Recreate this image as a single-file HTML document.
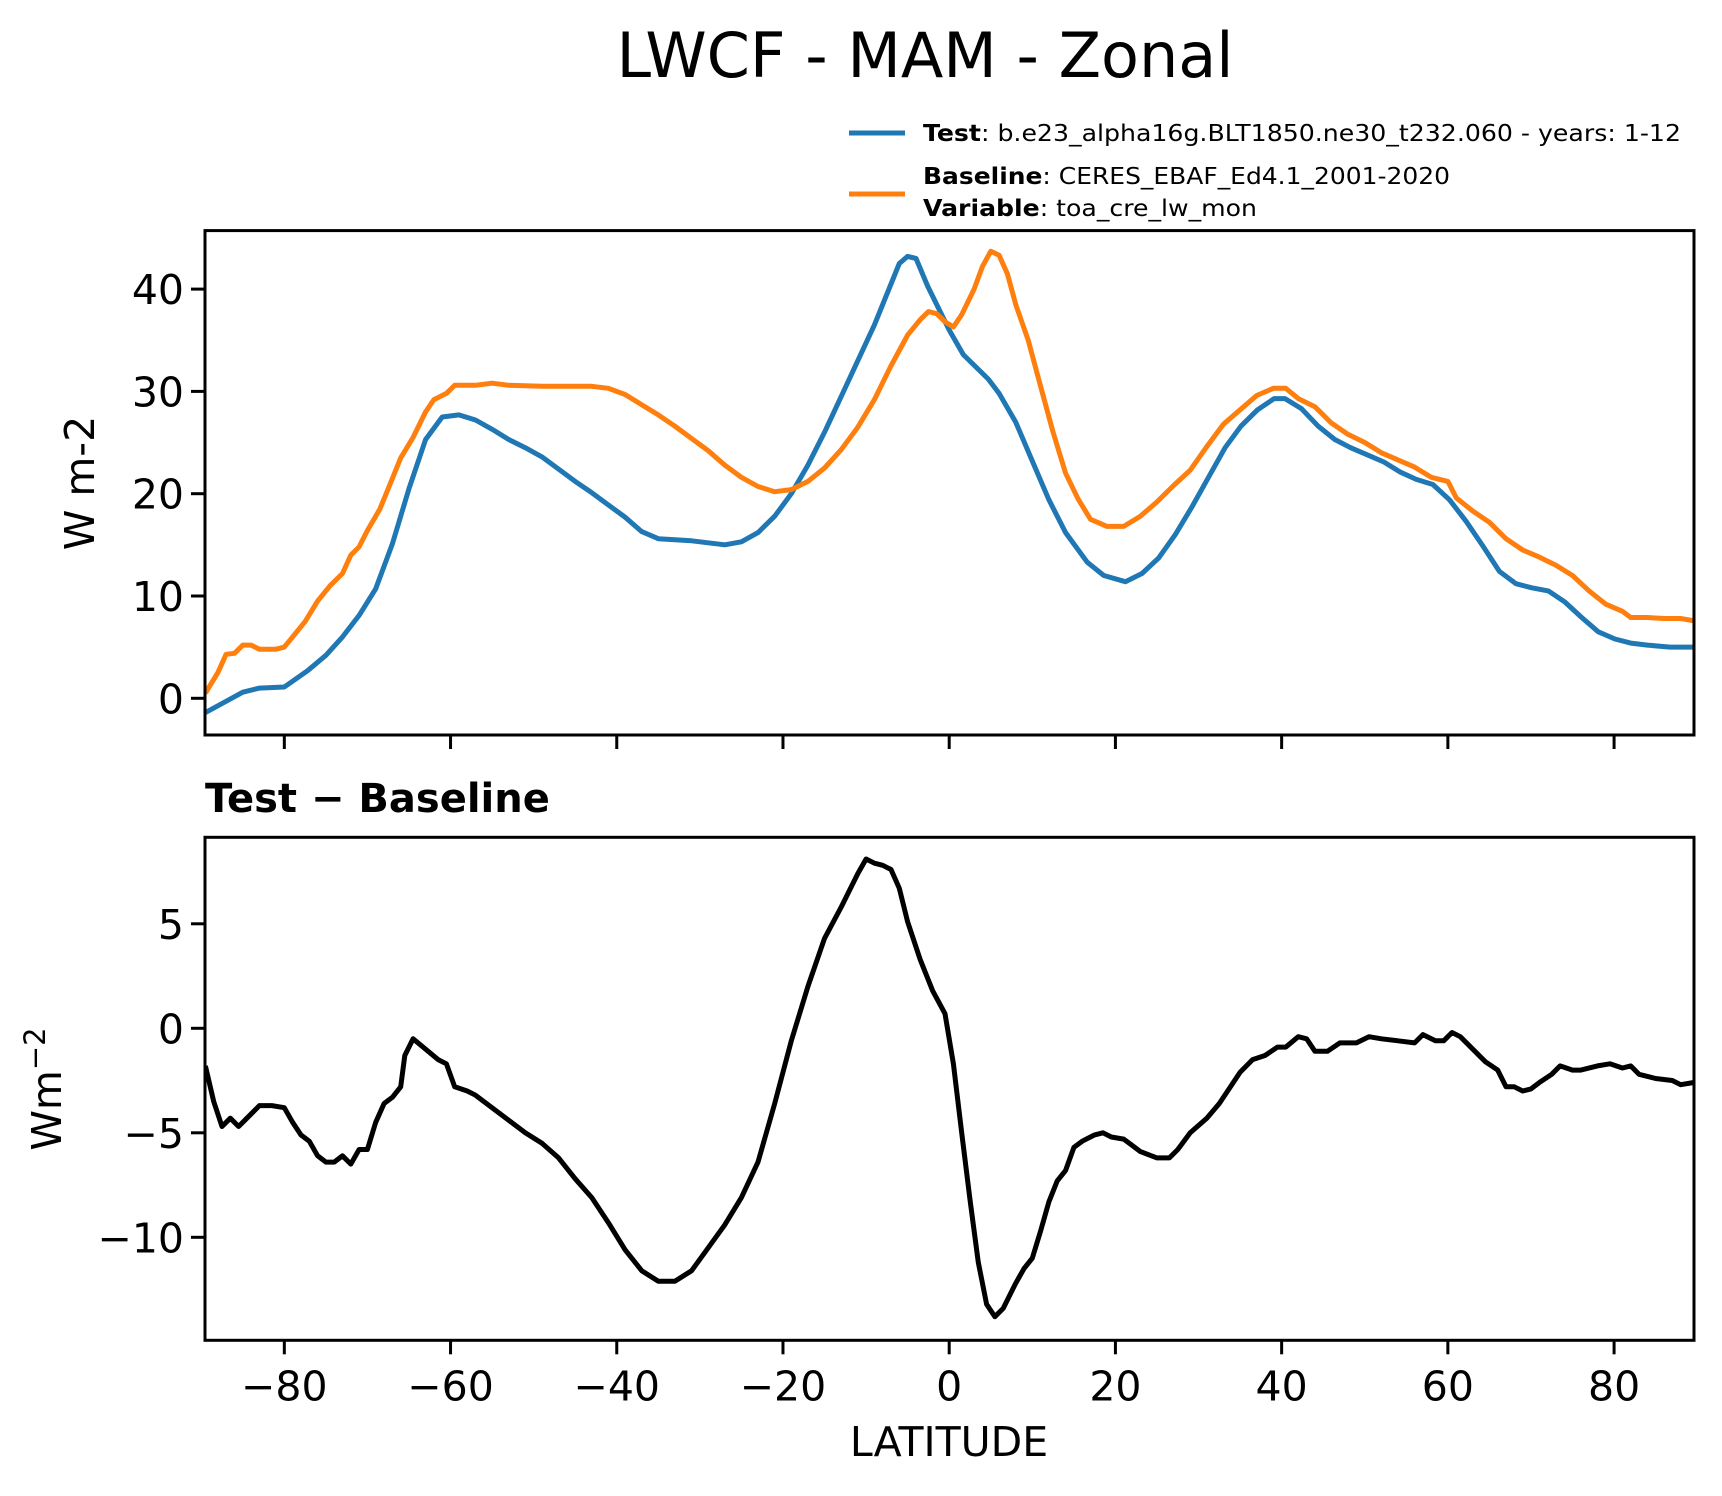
<!DOCTYPE html>
<html><head><meta charset="utf-8"><style>
html,body{margin:0;padding:0;background:#fff}
svg{display:block}
text{font-family:"DejaVu Sans","Liberation Sans",sans-serif;fill:#000}
</style></head><body>
<svg id="chart" width="1722" height="1496" viewBox="0 0 1722 1496" xmlns="http://www.w3.org/2000/svg">
<rect width="1722" height="1496" fill="#fff"/>
<text x="925" y="77" font-size="62" text-anchor="middle">LWCF - MAM - Zonal</text>
<g>
<line x1="849" y1="133" x2="905" y2="133" stroke="#1f77b4" stroke-width="5"/>
<text x="923" y="141" font-size="23.5" textLength="758" lengthAdjust="spacingAndGlyphs"><tspan font-weight="bold">Test</tspan>: b.e23_alpha16g.BLT1850.ne30_t232.060 - years: 1-12</text>
<line x1="849" y1="194" x2="905" y2="194" stroke="#ff7f0e" stroke-width="5"/>
<text x="923" y="184" font-size="23.5" textLength="527" lengthAdjust="spacingAndGlyphs"><tspan font-weight="bold">Baseline</tspan>: CERES_EBAF_Ed4.1_2001-2020</text>
<text x="923" y="216" font-size="23.5" textLength="334" lengthAdjust="spacingAndGlyphs"><tspan font-weight="bold">Variable</tspan>: toa_cre_lw_mon</text>
</g>
<g id="top"></g>
<g id="bot"></g>
<text transform="translate(94,483) rotate(-90)" font-size="41" text-anchor="middle">W m-2</text>
<text transform="translate(61,1089) rotate(-90)" font-size="41" text-anchor="middle">Wm<tspan dy="-16" font-size="29">−2</tspan></text>
<text x="205" y="812" font-size="40" font-weight="bold">Test − Baseline</text>
<text x="949" y="1456" font-size="41" text-anchor="middle">LATITUDE</text>
</svg>
<script>
const xTicks=[-80,-60,-40,-20,0,20,40,60,80];
const topTicks=[0,10,20,30,40];
const botTicks=[-10,-5,0,5];
const testLat=[-89.5,-85,-83,-80,-77.2,-75,-73,-71,-69,-67,-65,-63,-61,-59,-57,-55,-53,-51,-49,-47,-45,-43,-41,-39,-37,-35,-33,-31,-29,-27,-25,-23,-21,-19,-17,-15,-13,-11,-9,-7,-6,-5,-4,-2.6,0,1.7,4.7,6,8,10,12,14,16.6,18.6,21.2,23.2,25.2,27.2,29.2,31.2,33.2,35.1,37.1,39.1,40.4,42.4,44.4,46.4,48.3,50.3,52.3,54.3,56.2,58.2,60.2,62.2,64.2,66.2,68.2,70.1,72.1,74.1,76.1,78.1,80.1,82,84,86.7,89.5];
const testVal=[-1.4,0.6,1.0,1.1,2.7,4.2,6.0,8.1,10.7,15.1,20.5,25.3,27.5,27.7,27.2,26.3,25.3,24.5,23.6,22.4,21.2,20.1,18.9,17.7,16.3,15.6,15.5,15.4,15.2,15.0,15.3,16.2,17.8,20.0,22.8,26.0,29.5,33.0,36.5,40.5,42.5,43.2,43.0,40.3,36.0,33.6,31.2,29.8,27.0,23.2,19.4,16.2,13.3,12.0,11.4,12.2,13.7,16.0,18.7,21.6,24.5,26.6,28.2,29.3,29.3,28.3,26.6,25.3,24.5,23.8,23.1,22.1,21.4,20.9,19.4,17.3,14.9,12.4,11.2,10.8,10.5,9.4,7.9,6.5,5.8,5.4,5.2,5.0,5.0];
const baseLat=[-89.5,-88,-87,-86,-85,-84,-83,-81,-80,-79,-77.5,-76,-74.5,-73,-72,-71,-70,-68.5,-67,-66,-64.5,-63,-62,-60.5,-59.5,-57,-55,-53,-49,-45,-43,-41,-39,-37,-35,-33,-31,-29,-27,-25,-23,-21,-19,-17,-15,-13,-11,-9,-7,-6,-5,-3.5,-2.5,-1.5,-0.5,0.5,1.5,3,4,5,6,7,8,9.5,11,12.5,14,15.5,17,19,21,23,25,27,29,31,33,35,37,39,40.5,42,44,46,48,50,52,54,56,58,60,61,63,65,67,69,71,73,75,77,79,81,82,84,86,88,89.5];
const baseVal=[0.5,2.5,4.3,4.4,5.2,5.2,4.8,4.8,5.0,6.0,7.5,9.5,11.0,12.2,14.0,14.8,16.4,18.5,21.5,23.5,25.5,28.0,29.2,29.8,30.6,30.6,30.8,30.6,30.5,30.5,30.5,30.3,29.7,28.7,27.7,26.6,25.4,24.2,22.8,21.6,20.7,20.2,20.4,21.2,22.5,24.3,26.5,29.2,32.5,34.0,35.5,37.0,37.8,37.6,36.8,36.3,37.5,40.0,42.2,43.7,43.3,41.5,38.5,35.0,30.5,26.0,22.0,19.5,17.5,16.8,16.8,17.8,19.2,20.8,22.3,24.6,26.8,28.2,29.6,30.3,30.3,29.3,28.5,26.9,25.8,25.0,24.0,23.3,22.6,21.6,21.2,19.6,18.3,17.2,15.6,14.5,13.8,13.0,12.0,10.5,9.2,8.5,7.9,7.9,7.8,7.8,7.6];
const diffLat=[-89.5,-88.5,-87.5,-86.5,-85.5,-84.5,-83,-81.5,-80,-79,-78,-77,-76,-75,-74,-73,-72,-71,-70,-69,-68,-67,-66,-65.5,-64.5,-63,-61.5,-60.5,-59.5,-58,-57,-55,-53,-51,-49,-47,-45,-43,-41,-39,-37,-35,-33,-31,-29,-27,-25,-23,-21,-19,-17,-15,-13,-11,-10,-9,-8,-7,-6,-5,-3.5,-2,-0.5,0.5,1.5,2.5,3.5,4.5,5.5,6.5,8,9,10,11,12,13,14,15,16,17.5,18.5,19.5,21,22,23,25,26.5,27.5,29,31,32.5,34,35,36.5,38,39.5,40.5,42,43,44,45.5,47,49,50.5,52,54,56,57,58.5,59.5,60.5,61.5,63,64.5,66,67,68,69,70,71,72.5,73.5,75,76,78,79.5,81,82,83,85,87,88,89.5];
const diffVal=[-1.8,-3.5,-4.7,-4.3,-4.7,-4.3,-3.7,-3.7,-3.8,-4.5,-5.1,-5.4,-6.1,-6.4,-6.4,-6.1,-6.5,-5.8,-5.8,-4.5,-3.6,-3.3,-2.8,-1.3,-0.5,-1.0,-1.5,-1.7,-2.8,-3.0,-3.2,-3.8,-4.4,-5.0,-5.5,-6.2,-7.2,-8.1,-9.3,-10.6,-11.6,-12.1,-12.1,-11.6,-10.5,-9.4,-8.1,-6.4,-3.6,-0.6,2.0,4.3,5.8,7.4,8.1,7.9,7.8,7.6,6.7,5.1,3.3,1.8,0.7,-1.7,-5.0,-8.2,-11.2,-13.2,-13.8,-13.4,-12.2,-11.5,-11.0,-9.7,-8.3,-7.3,-6.8,-5.7,-5.4,-5.1,-5.0,-5.2,-5.3,-5.6,-5.9,-6.2,-6.2,-5.8,-5.0,-4.3,-3.6,-2.7,-2.1,-1.5,-1.3,-0.9,-0.9,-0.4,-0.5,-1.1,-1.1,-0.7,-0.7,-0.4,-0.5,-0.6,-0.7,-0.3,-0.6,-0.6,-0.2,-0.4,-1.0,-1.6,-2.0,-2.8,-2.8,-3.0,-2.9,-2.6,-2.2,-1.8,-2.0,-2.0,-1.8,-1.7,-1.9,-1.8,-2.2,-2.4,-2.5,-2.7,-2.6];

const NS='http://www.w3.org/2000/svg';
const L=205,R=1694;
const x=lat=>949.2+lat*8.311;
const yTop=v=>698.3-v*10.23;
const yBot=v=>1028.3-v*20.9;
function mk(tag,attrs,parent){const e=document.createElementNS(NS,tag);for(const k in attrs)e.setAttribute(k,attrs[k]);parent.appendChild(e);return e;}
function panel(g,top,bottom,yf,ticks,showX,name){
  const cp=name+'-clip';
  const d=mk('defs',{},g);const c=mk('clipPath',{id:cp},d);mk('rect',{x:L,y:top,width:R-L,height:bottom-top},c);
  ticks.forEach(t=>{
    const tk=mk('line',{x1:L-14,x2:L,y1:yf(t),y2:yf(t),stroke:'#000','stroke-width':3},g);
    
    
    const tx=mk('text',{x:L-21,y:yf(t)+15,'font-size':41,'text-anchor':'end'},g);
    tx.textContent=String(t).replace('-','−');
    
    
  });
  xTicks.forEach(t=>{
    const tk=mk('line',{x1:x(t),x2:x(t),y1:bottom,y2:bottom+14,stroke:'#000','stroke-width':3},g);
    
    
    if(showX){
      const tx=mk('text',{x:x(t),y:bottom+60,'font-size':41,'text-anchor':'middle'},g);
      tx.textContent=String(t).replace('-','−');
      
      
    }
  });
  return cp;
}
function series(g,lat,val,yf,color,cp,name){
  const pts=lat.map((a,i)=>x(a).toFixed(1)+','+yf(val[i]).toFixed(1)).join(' ');
  const p=mk('polyline',{points:pts,fill:'none',stroke:color,'stroke-width':5,'stroke-linejoin':'round','clip-path':'url(#'+cp+')'},g);
  
  
}
const gt=document.getElementById('top');


const cp1=panel(gt,230.6,735,yTop,topTicks,false,'top');
series(gt,testLat,testVal,yTop,'#1f77b4',cp1,'test-line');
series(gt,baseLat,baseVal,yTop,'#ff7f0e',cp1,'baseline-line');
const f1=mk('rect',{x:L,y:230.6,width:R-L,height:735-230.6,fill:'none',stroke:'#000','stroke-width':3},gt);


const gb=document.getElementById('bot');


const cp2=panel(gb,837.3,1340.3,yBot,botTicks,true,'bot');
series(gb,diffLat,diffVal,yBot,'#000',cp2,'difference-line');
const f2=mk('rect',{x:L,y:837.3,width:R-L,height:1340.3-837.3,fill:'none',stroke:'#000','stroke-width':3},gb);


</script>
</body></html>
